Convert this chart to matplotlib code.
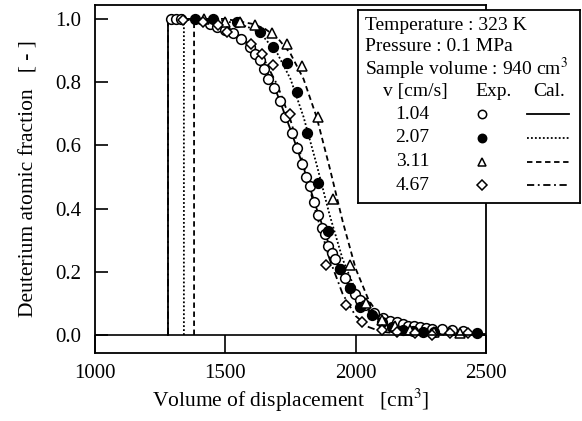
import matplotlib
matplotlib.use("Agg")
import matplotlib.pyplot as plt

plt.rcParams["font.family"] = ["Liberation Serif", "DejaVu Serif"]
plt.rcParams["mathtext.fontset"] = "stix"

v_labels = ["1.04", "2.07", "3.11", "4.67"]

x_104 = [1290, 1310, 1330, 1440, 1467, 1500, 1530, 1560, 1595, 1615, 1633, 1650, 1665, 1685,
         1710, 1730, 1756, 1775, 1794, 1810, 1825, 1840, 1855, 1870, 1882, 1894, 1908, 1920,
         1940, 1959, 1980, 1997, 2015, 2036, 2070, 2105, 2130, 2158, 2180, 2200, 2225, 2247,
         2270, 2293, 2330, 2370, 2410]
y_104 = [1.0, 1.0, 1.0, 0.985, 0.975, 0.965, 0.955, 0.935, 0.91, 0.89, 0.87, 0.84, 0.81, 0.78,
         0.74, 0.69, 0.64, 0.59, 0.54, 0.50, 0.47, 0.42, 0.38, 0.34, 0.32, 0.28, 0.26, 0.24,
         0.21, 0.18, 0.15, 0.13, 0.11, 0.095, 0.07, 0.055, 0.045, 0.04, 0.035, 0.03, 0.028, 0.025,
         0.022, 0.02, 0.018, 0.015, 0.012]

x_207 = [1384, 1452, 1545, 1633, 1683, 1736, 1775, 1813, 1855, 1894, 1940, 1978, 2017, 2063,
         2100, 2140, 2181, 2220, 2258, 2300, 2465]
y_207 = [1.0, 1.0, 0.99, 0.96, 0.91, 0.86, 0.77, 0.64, 0.48, 0.33, 0.21, 0.15, 0.09, 0.063,
         0.04, 0.025, 0.016, 0.012, 0.01, 0.01, 0.006]

x_311 = [1420, 1500, 1557, 1614, 1679, 1736, 1794, 1855, 1913, 1978, 2040, 2100, 2150, 2208,
         2300, 2400]
y_311 = [1.0, 0.99, 0.99, 0.98, 0.955, 0.92, 0.85, 0.69, 0.43, 0.22, 0.1, 0.047, 0.03, 0.016,
         0.01, 0.006]

x_467 = [1338, 1414, 1470, 1506, 1600, 1640, 1683, 1748, 1886, 1963, 2024, 2100, 2158, 2227,
         2293, 2360, 2430]
y_467 = [0.995, 0.99, 0.98, 0.96, 0.92, 0.89, 0.855, 0.70, 0.22, 0.095, 0.04, 0.016, 0.01,
         0.006, 0.0, 0.006, 0.006]

# Calculated curves
cx_104 = [1280, 1280, 1400, 1450, 1500, 1550, 1600, 1650, 1700, 1750, 1800, 1850, 1900, 1950,
          2000, 2050, 2100, 2150, 2200, 2300, 2400, 2500]
cy_104 = [0.0, 1.0, 1.0, 0.99, 0.975, 0.95, 0.91, 0.85, 0.76, 0.65, 0.53, 0.40, 0.28, 0.19,
          0.12, 0.08, 0.05, 0.03, 0.02, 0.01, 0.005, 0.003]

cx_207 = [1341, 1341, 1450, 1550, 1600, 1650, 1700, 1750, 1800, 1850, 1900, 1950, 2000, 2050,
          2100, 2150, 2200, 2300, 2500]
cy_207 = [0.0, 1.0, 1.0, 0.985, 0.97, 0.94, 0.89, 0.81, 0.69, 0.54, 0.38, 0.24, 0.14, 0.075,
          0.04, 0.02, 0.01, 0.004, 0.001]

cx_311 = [1380, 1380, 1500, 1600, 1650, 1700, 1750, 1800, 1850, 1900, 1950, 2000, 2050, 2100,
          2150, 2200, 2300, 2500]
cy_311 = [0.0, 1.0, 1.0, 0.985, 0.97, 0.94, 0.89, 0.81, 0.69, 0.53, 0.36, 0.21, 0.11, 0.05,
          0.02, 0.008, 0.002, 0.0]

cx_467 = [1280, 1280, 1400, 1500, 1600, 1650, 1700, 1750, 1800, 1850, 1900, 1950, 2000, 2050,
          2100, 2200, 2500]
cy_467 = [0.0, 1.0, 0.995, 0.975, 0.92, 0.87, 0.79, 0.68, 0.54, 0.38, 0.24, 0.13, 0.06, 0.025,
          0.01, 0.002, 0.0]

x_ticks = [1000, 1500, 2000, 2500]
y_ticks = [0.0, 0.2, 0.4, 0.6, 0.8, 1.0]

W, H = 582, 421
fig = plt.figure(figsize=(W / 100, H / 100), dpi=100)
ax = fig.add_axes([95 / W, (H - 353) / H, (486 - 95) / W, (353 - 5) / H])

lw = 1.3
ax.plot(cx_104, cy_104, color="black", lw=lw, ls="-")
ax.plot(cx_207, cy_207, color="black", lw=lw, ls=(0, (1, 1.2)))
ax.plot(cx_311, cy_311, color="black", lw=lw, ls=(0, (3, 2)))
ax.plot(cx_467, cy_467, color="black", lw=lw, ls=(0, (4, 2, 1, 2)))

ms = 7
ax.plot(x_104, y_104, "o", mfc="white", mec="black", mew=1.1, ms=ms)
ax.plot(x_207, y_207, "o", mfc="black", mec="black", mew=1.1, ms=ms)
ax.plot(x_311, y_311, "^", mfc="white", mec="black", mew=1.1, ms=ms)
ax.plot(x_467, y_467, "D", mfc="white", mec="black", mew=1.1, ms=5.5)

ax.axhline(0, color="black", lw=1.2)
ax.set_xlim(1000, 2500)
ax.set_ylim(-0.057, 1.044)
ax.set_xticks(x_ticks)
ax.set_yticks(y_ticks)
ax.set_yticklabels([f"{t:.1f}" for t in y_ticks])
ax.tick_params(axis="x", direction="in", length=13, width=1.2, labelsize=15, pad=8)
ax.tick_params(axis="y", direction="in", length=9.5, width=1.2, labelsize=15, pad=10)
for s in ax.spines.values():
    s.set_linewidth(1.3)
ax.set_xlabel("Volume of displacement   [cm$^3$]", fontsize=15.5, labelpad=3)
ax.set_ylabel("Deuterium atomic fraction   [ - ]", fontsize=15.5, labelpad=12)

# Legend box
box_top, box_bot = 10, 203
lg = fig.add_axes([358 / W, (H - box_bot) / H, (580 - 358) / W, (box_bot - box_top) / H])
lg.set_xlim(0, 1)
lg.set_ylim(box_bot, box_top)
lg.set_xticks([])
lg.set_yticks([])
for s in lg.spines.values():
    s.set_linewidth(1.3)

fs = 14
lg.text(0.03, 25, "Temperature : 323 K", fontsize=fs, va="center", ha="left")
lg.text(0.03, 46, "Pressure : 0.1 MPa", fontsize=fs, va="center", ha="left")
lg.text(0.03, 69, "Sample volume : 940 cm$^3$", fontsize=fs, va="center", ha="left")
lg.text(0.26, 91, "v [cm/s]", fontsize=fs, va="center", ha="center")
lg.text(0.61, 91, "Exp.", fontsize=fs, va="center", ha="center")
lg.text(0.86, 91, "Cal.", fontsize=fs, va="center", ha="center")

rows = [114, 138, 162, 185]
styles = [("o", "white", "-"), ("o", "black", (0, (1, 1.2))),
          ("^", "white", (0, (3, 2))), ("D", "white", (0, (4, 2, 1, 2)))]
for lab, yy, (mk, fc, ls) in zip(v_labels, rows, styles):
    lg.text(0.245, yy, lab, fontsize=fs, va="center", ha="center")
    lg.plot([0.56], [yy], mk, mfc=fc, mec="black", mew=1.1, ms=6 if mk != "D" else 5)
    lg.plot([0.76, 0.95], [yy, yy], color="black", lw=lw, ls=ls)

fig.savefig("out.png", dpi=100)
